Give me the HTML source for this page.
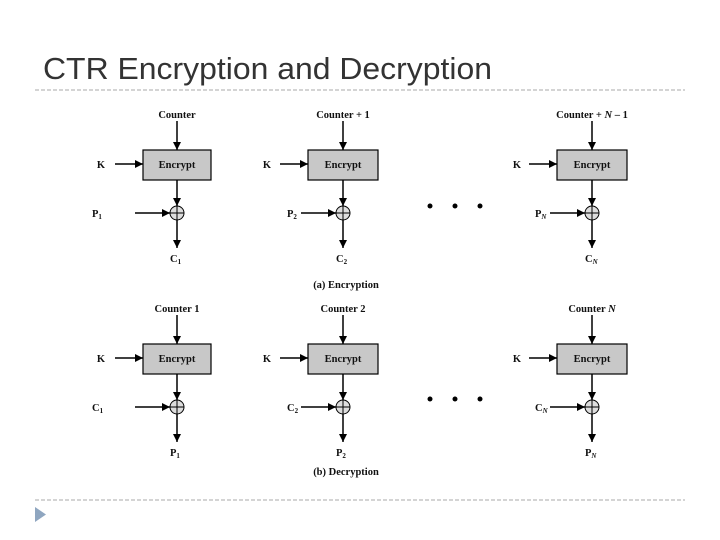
<!DOCTYPE html>
<html><head><meta charset="utf-8"><style>
html,body{margin:0;padding:0;background:#fff;width:720px;height:540px;overflow:hidden}
svg{display:block}
.t{font-family:"Liberation Serif",serif;font-weight:bold;font-size:10.5px;fill:#111}
.s{font-size:7px}
</style></head><body>
<svg width="720" height="540" viewBox="0 0 720 540" xmlns="http://www.w3.org/2000/svg">
<defs><marker id="a" markerWidth="8" markerHeight="8" refX="8" refY="4" orient="auto" markerUnits="userSpaceOnUse"><path d="M0,0 L8,4 L0,8 Z" fill="#000"/></marker></defs>
<text x="43" y="79" font-family="Liberation Sans, sans-serif" font-size="31" fill="#333" textLength="449" lengthAdjust="spacingAndGlyphs">CTR Encryption and Decryption</text>
<line x1="35" y1="90" x2="685" y2="90" stroke="#aaa" stroke-dasharray="4,2"/>
<line x1="35" y1="500" x2="685" y2="500" stroke="#aaa" stroke-dasharray="4,2"/>
<path d="M35,507 L46,514.5 L35,522 Z" fill="#8fa6c0"/>
<g stroke="#000" stroke-width="1.5" fill="none">
<g>
<line x1="177" y1="121" x2="177" y2="150" marker-end="url(#a)"/>
<line x1="115" y1="164" x2="143" y2="164" marker-end="url(#a)"/>
<line x1="177" y1="180" x2="177" y2="206" marker-end="url(#a)"/>
<line x1="135" y1="213" x2="170" y2="213" marker-end="url(#a)"/>
<line x1="177" y1="220" x2="177" y2="248" marker-end="url(#a)"/>
<line x1="343" y1="121" x2="343" y2="150" marker-end="url(#a)"/>
<line x1="280" y1="164" x2="308" y2="164" marker-end="url(#a)"/>
<line x1="343" y1="180" x2="343" y2="206" marker-end="url(#a)"/>
<line x1="301" y1="213" x2="336" y2="213" marker-end="url(#a)"/>
<line x1="343" y1="220" x2="343" y2="248" marker-end="url(#a)"/>
<line x1="592" y1="121" x2="592" y2="150" marker-end="url(#a)"/>
<line x1="529" y1="164" x2="557" y2="164" marker-end="url(#a)"/>
<line x1="592" y1="180" x2="592" y2="206" marker-end="url(#a)"/>
<line x1="550" y1="213" x2="585" y2="213" marker-end="url(#a)"/>
<line x1="592" y1="220" x2="592" y2="248" marker-end="url(#a)"/>
</g>
<g transform="translate(0,194)">
<line x1="177" y1="121" x2="177" y2="150" marker-end="url(#a)"/>
<line x1="115" y1="164" x2="143" y2="164" marker-end="url(#a)"/>
<line x1="177" y1="180" x2="177" y2="206" marker-end="url(#a)"/>
<line x1="135" y1="213" x2="170" y2="213" marker-end="url(#a)"/>
<line x1="177" y1="220" x2="177" y2="248" marker-end="url(#a)"/>
<line x1="343" y1="121" x2="343" y2="150" marker-end="url(#a)"/>
<line x1="280" y1="164" x2="308" y2="164" marker-end="url(#a)"/>
<line x1="343" y1="180" x2="343" y2="206" marker-end="url(#a)"/>
<line x1="301" y1="213" x2="336" y2="213" marker-end="url(#a)"/>
<line x1="343" y1="220" x2="343" y2="248" marker-end="url(#a)"/>
<line x1="592" y1="121" x2="592" y2="150" marker-end="url(#a)"/>
<line x1="529" y1="164" x2="557" y2="164" marker-end="url(#a)"/>
<line x1="592" y1="180" x2="592" y2="206" marker-end="url(#a)"/>
<line x1="550" y1="213" x2="585" y2="213" marker-end="url(#a)"/>
<line x1="592" y1="220" x2="592" y2="248" marker-end="url(#a)"/>
</g>
</g>
<g stroke="#000" stroke-width="1.2" fill="#c8c8c8">
<rect x="143" y="150" width="68" height="30"/><rect x="308" y="150" width="70" height="30"/><rect x="557" y="150" width="70" height="30"/>
<rect x="143" y="344" width="68" height="30"/><rect x="308" y="344" width="70" height="30"/><rect x="557" y="344" width="70" height="30"/>
</g>
<g stroke="#000" stroke-width="1" fill="#ddd">
<circle cx="177" cy="213" r="7"/><circle cx="343" cy="213" r="7"/><circle cx="592" cy="213" r="7"/>
<circle cx="177" cy="407" r="7"/><circle cx="343" cy="407" r="7"/><circle cx="592" cy="407" r="7"/>
<path d="M170,213H184M177,206V220M336,213H350M343,206V220M585,213H599M592,206V220M170,407H184M177,400V414M336,407H350M343,400V414M585,407H599M592,400V414" fill="none"/>
</g>
<g fill="#000"><circle cx="430" cy="206" r="2.5"/><circle cx="455" cy="206" r="2.5"/><circle cx="480" cy="206" r="2.5"/>
<circle cx="430" cy="399" r="2.5"/><circle cx="455" cy="399" r="2.5"/><circle cx="480" cy="399" r="2.5"/></g>
<g class="t" text-anchor="middle">
<text x="177" y="118">Counter</text><text x="343" y="118">Counter + 1</text><text x="592" y="118">Counter + <tspan font-style="italic">N</tspan> – 1</text>
<text x="177" y="168">Encrypt</text><text x="343" y="168">Encrypt</text><text x="592" y="168">Encrypt</text>
<text x="177" y="312">Counter 1</text><text x="343" y="312">Counter 2</text><text x="592" y="312">Counter <tspan font-style="italic">N</tspan></text>
<text x="177" y="362">Encrypt</text><text x="343" y="362">Encrypt</text><text x="592" y="362">Encrypt</text>
<text x="346" y="288">(a) Encryption</text><text x="346" y="475">(b) Decryption</text>
<text x="101" y="168">K</text><text x="267" y="168">K</text><text x="517" y="168">K</text>
<text x="101" y="362">K</text><text x="267" y="362">K</text><text x="517" y="362">K</text>
</g>
<g class="t">
<text x="92" y="217">P<tspan class="s" dy="2">1</tspan></text>
<text x="287" y="217">P<tspan class="s" dy="2">2</tspan></text>
<text x="535" y="217">P<tspan class="s" dy="2" font-style="italic">N</tspan></text>
<text x="170" y="262">C<tspan class="s" dy="2">1</tspan></text>
<text x="336" y="262">C<tspan class="s" dy="2">2</tspan></text>
<text x="585" y="262">C<tspan class="s" dy="2" font-style="italic">N</tspan></text>
<text x="92" y="411">C<tspan class="s" dy="2">1</tspan></text>
<text x="287" y="411">C<tspan class="s" dy="2">2</tspan></text>
<text x="535" y="411">C<tspan class="s" dy="2" font-style="italic">N</tspan></text>
<text x="170" y="456">P<tspan class="s" dy="2">1</tspan></text>
<text x="336" y="456">P<tspan class="s" dy="2">2</tspan></text>
<text x="585" y="456">P<tspan class="s" dy="2" font-style="italic">N</tspan></text>
</g>
</svg>
</body></html>
